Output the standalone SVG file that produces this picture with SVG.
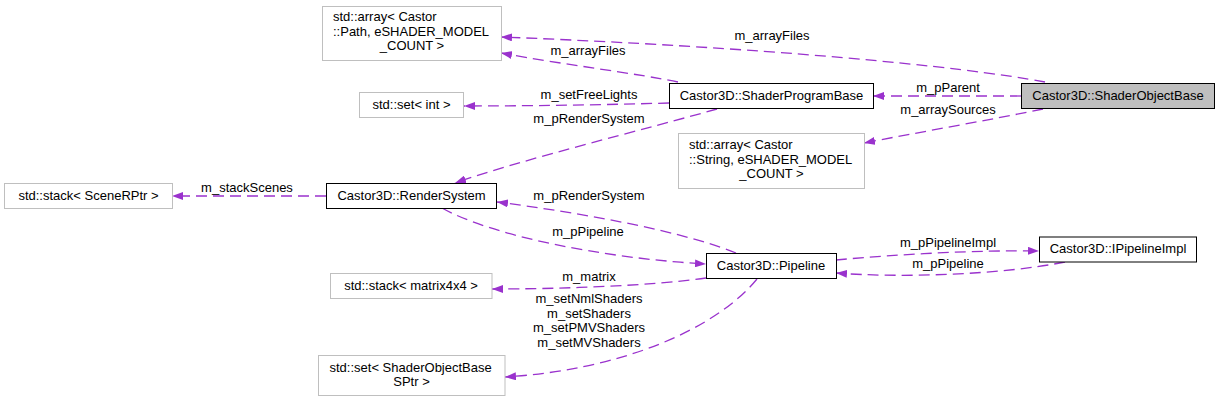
<svg xmlns="http://www.w3.org/2000/svg" width="1220" height="402" viewBox="0 0 1220 402">
<style>
text{font-family:"Liberation Sans",Arial,sans-serif;font-size:13px;fill:#000}
.m{text-anchor:middle}
.ext{fill:#fff;stroke:#bfbfbf;stroke-width:1}
.cls{fill:#fff;stroke:#000;stroke-width:1}
.cur{fill:#bfbfbf;stroke:#000;stroke-width:1}
.e{fill:none;stroke:#9a32cd;stroke-width:1.3;stroke-dasharray:11,6;marker-end:url(#ah)}
</style>
<defs>
<marker id="ah" viewBox="0 0 11 8" refX="11" refY="4" markerWidth="11" markerHeight="8" markerUnits="userSpaceOnUse" orient="auto">
<path d="M0,0 L11,4 L0,8 z" fill="#9a32cd"/>
</marker>
</defs>
<rect width="1220" height="402" fill="#fff"/>
<g id="connectors">
<path class="e" d="M1045,82 C960,66 760,47 501,37"/>
<text class="m" x="772" y="40">m_arrayFiles</text>
<path class="e" d="M678,82 C640,74 560,64 501,53"/>
<text class="m" x="588" y="55">m_arrayFiles</text>
<path class="e" d="M1021,96 L873,96"/>
<text class="m" x="948" y="92">m_pParent</text>
<path class="e" d="M1043,109 C990,120 920,132 864,143"/>
<text class="m" x="948" y="114">m_arraySources</text>
<path class="e" d="M669,103 C600,105 520,106 464,106"/>
<text class="m" x="589" y="99">m_setFreeLights</text>
<path class="e" d="M717,109 C650,128 520,160 455,183"/>
<text class="m" x="589" y="123">m_pRenderSystem</text>
<path class="e" d="M326,196 L172,196"/>
<text class="m" x="247" y="192">m_stackScenes</text>
<path class="e" d="M736,253 C700,238 620,218 497,202"/>
<text class="m" x="589" y="200">m_pRenderSystem</text>
<path class="e" d="M442,208 C490,235 600,258 706,264"/>
<text class="m" x="588" y="236">m_pPipeline</text>
<path class="e" d="M706,278 C650,286 560,289 492,289"/>
<text class="m" x="589" y="281">m_matrix</text>
<path class="e" d="M757,279 C715,330 620,370 505,377"/>
<text class="m" x="589" y="303">m_setNmlShaders</text>
<text class="m" x="589" y="318">m_setShaders</text>
<text class="m" x="589" y="332">m_setPMVShaders</text>
<text class="m" x="589" y="347">m_setMVShaders</text>
<path class="e" d="M836,260 C900,254 980,250 1039,251"/>
<text class="m" x="948" y="247">m_pPipelineImpl</text>
<path class="e" d="M1065,262 C1000,275 900,278 836,273"/>
<text class="m" x="948" y="268">m_pPipeline</text>
</g>
<g id="ShaderObjectBase">
<rect class="cur" x="1021.5" y="83.5" width="193" height="25"/>
<text class="m" x="1118" y="100">Castor3D::ShaderObjectBase</text>
</g>
<g id="ShaderProgramBase">
<rect class="cls" x="669.5" y="83.5" width="204" height="25"/>
<text class="m" x="771.5" y="100">Castor3D::ShaderProgramBase</text>
</g>
<g id="arrayPath">
<rect class="ext" x="322.5" y="6.5" width="179" height="54"/>
<text x="333" y="21">std::array&lt; Castor</text>
<text x="333" y="36">::Path, eSHADER_MODEL</text>
<text class="m" x="412" y="50">_COUNT &gt;</text>
</g>
<g id="setInt">
<rect class="ext" x="359.5" y="92.5" width="104" height="25"/>
<text class="m" x="411.5" y="109">std::set&lt; int &gt;</text>
</g>
<g id="arrayString">
<rect class="ext" x="678.5" y="133.5" width="186" height="55"/>
<text x="689" y="149">std::array&lt; Castor</text>
<text x="689" y="164">::String, eSHADER_MODEL</text>
<text class="m" x="771.5" y="178">_COUNT &gt;</text>
</g>
<g id="stackScene">
<rect class="ext" x="4.5" y="183.5" width="168" height="25"/>
<text class="m" x="88.5" y="200">std::stack&lt; SceneRPtr &gt;</text>
</g>
<g id="RenderSystem">
<rect class="cls" x="326.5" y="183.5" width="170" height="25"/>
<text class="m" x="411.5" y="200">Castor3D::RenderSystem</text>
</g>
<g id="stackMatrix">
<rect class="ext" x="330.5" y="273.5" width="161.5" height="25"/>
<text class="m" x="411" y="290">std::stack&lt; matrix4x4 &gt;</text>
</g>
<g id="setShaderObject">
<rect class="ext" x="318.5" y="355.5" width="186.5" height="40"/>
<text x="329.5" y="371.5">std::set&lt; ShaderObjectBase</text>
<text class="m" x="411.5" y="385.5">SPtr &gt;</text>
</g>
<g id="Pipeline">
<rect class="cls" x="706.5" y="253.5" width="130" height="25"/>
<text class="m" x="771" y="270">Castor3D::Pipeline</text>
</g>
<g id="IPipelineImpl">
<rect class="cls" x="1039.5" y="237" width="157" height="25"/>
<text class="m" x="1118" y="253">Castor3D::IPipelineImpl</text>
</g>
</svg>
